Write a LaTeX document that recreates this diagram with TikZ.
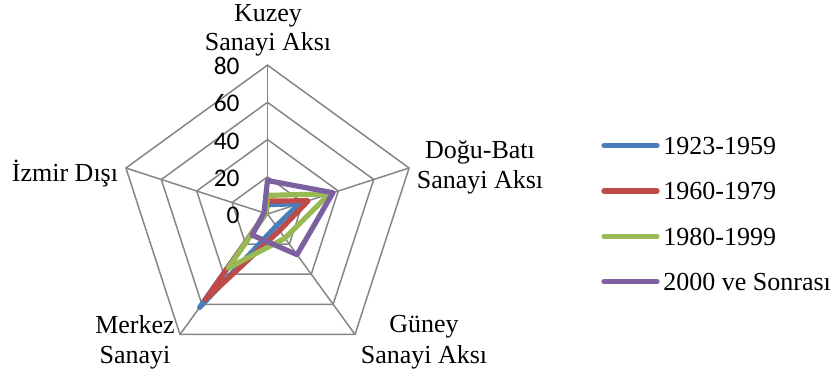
\documentclass[tikz,border=0pt]{standalone}
\usepackage{fontspec}
\setmainfont{Liberation Serif}
\newfontfamily\tickfont{Carlito}
\definecolor{gridgray}{RGB}{134,134,134}
\definecolor{cblue}{RGB}{74,126,187}
\definecolor{cred}{RGB}{190,75,72}
\definecolor{cgreen}{RGB}{152,185,84}
\definecolor{cpurple}{RGB}{125,96,160}
\tikzset{
  gridline/.style={draw=gridgray, line width=0.75pt, line join=miter},
  series/.style={line width=2.6pt, line join=round, line cap=round},
  lbl/.style={font=\fontsize{13}{15}\selectfont, inner sep=0pt, anchor=base},
  tick/.style={font=\tickfont\fontsize{12.7}{14}\selectfont, inner sep=0pt, anchor=east},
  legtxt/.style={font=\fontsize{13}{15}\selectfont, inner sep=0pt, anchor=base west}
}
\begin{document}
\begin{tikzpicture}[x=0.5pt,y=-0.5pt]
\useasboundingbox (0,0) rectangle (836,376);
% chart
\begin{scope}[shift={(267.5,214)}, x=0.9305pt, y=0.9305pt]
  \foreach \r in {20,40,60,80}
    \draw[gridline] (90:\r) -- (18:\r) -- (-54:\r) -- (-126:\r) -- (162:\r) -- cycle;
  \foreach \a in {90,18,-54,-126,162}
    \draw[gridline] (0,0) -- (\a:80);
  \draw[series, cblue]   (90:5)  -- (18:18) -- (-54:8)  -- (-126:62) -- (162:1) -- cycle;
  \draw[series, cred]    (90:7)  -- (18:23) -- (-54:11) -- (-126:57) -- (162:1) -- cycle;
  \draw[series, cgreen]  (90:10) -- (18:35) -- (-54:16) -- (-126:36) -- (162:1) -- cycle;
  \draw[series, cpurple] (90:18) -- (18:37) -- (-54:27) -- (-126:14) -- (162:2) -- cycle;
\end{scope}
% tick labels
\node[tick] (t80) at (240,66) {80};
\node[tick] (t60) at (240,103.5) {60};
\node[tick] (t40) at (240,141) {40};
\node[tick] (t20) at (240,178.5) {20};
\node[tick] (t0)  at (240,215.5) {0};
% axis labels
\node[lbl] (ku1) at (268,21) {Kuzey};
\node[lbl] (ku2) at (268,50) {Sanayi Aksı};
\node[lbl] (db1) at (480,158) {Doğu-Batı};
\node[lbl] (db2) at (480,188) {Sanayi Aksı};
\node[lbl] (gu1) at (424,332) {Güney};
\node[lbl] (gu2) at (424,363) {Sanayi Aksı};
\node[lbl] (me1) at (135,333) {Merkez};
\node[lbl] (me2) at (135,363) {Sanayi};
\node[lbl] (iz)  at (65,181) {İzmir Dışı};
% legend
\draw[series, cblue]   (604,145.7) -- (657,145.7);
\draw[series, cred]    (604,191)   -- (657,191);
\draw[series, cgreen]  (604,236.5) -- (657,236.5);
\draw[series, cpurple] (604,281.7) -- (657,281.7);
\node[legtxt] (l1) at (663,154.5) {1923-1959};
\node[legtxt] (l2) at (663,199.8) {1960-1979};
\node[legtxt] (l3) at (663,245.3) {1980-1999};
\node[legtxt] (l4) at (663,290.5) {2000 ve Sonrası};
\end{tikzpicture}
\end{document}
